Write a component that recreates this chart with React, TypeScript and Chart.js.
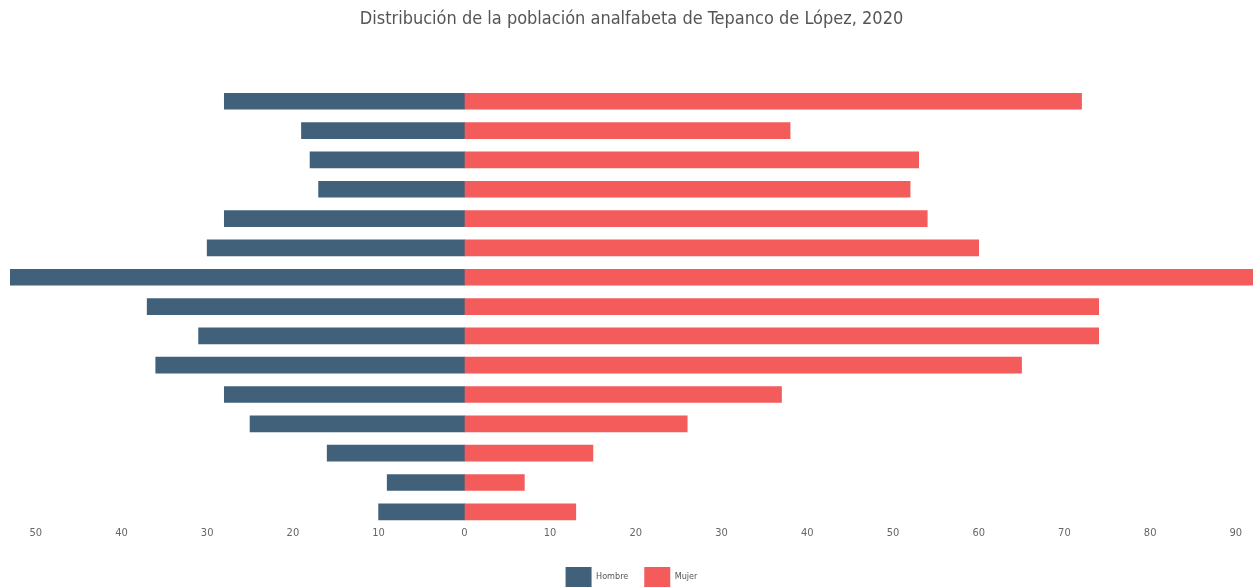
import React, { useEffect, useRef } from "react";
import { Chart, registerables } from "chart.js";

Chart.register(...registerables);

const categories = [
  "g1", "g2", "g3", "g4", "g5", "g6", "g7", "g8", "g9", "g10", "g11", "g12", "g13", "g14", "g15",
];
const hombre = [28, 19, 18, 17, 28, 30, 53, 37, 31, 36, 28, 25, 16, 9, 10];
const mujer = [72, 38, 53, 52, 54, 60, 92, 74, 74, 65, 37, 26, 15, 7, 13];
const titleText = "Distribución de la población analfabeta de Tepanco de López, 2020";

const FONT = "'Liberation Sans Narrow', 'DejaVu Sans Condensed', 'Open Sans', sans-serif";

export default function App() {
  const ref = useRef<HTMLCanvasElement | null>(null);
  useEffect(() => {
    if (!ref.current) return;
    const chart = new Chart(ref.current, {
      type: "bar",
      data: {
        labels: categories,
        datasets: [
          {
            label: "Hombre",
            data: hombre.map((v) => -v),
            backgroundColor: "#41617a",
            barThickness: 16,
          },
          {
            label: "Mujer",
            data: mujer,
            backgroundColor: "#f45b5b",
            barThickness: 16,
          },
        ],
      },
      options: {
        indexAxis: "y",
        animation: false,
        responsive: false,
        maintainAspectRatio: false,
        layout: { padding: { left: 10, right: 4, top: 0, bottom: -9 } },
        scales: {
          x: {
            stacked: true,
            min: -53,
            max: 92,
            grid: { display: false, drawTicks: false },
            border: { display: false },
            afterFit: (s: any) => {
              s.height = 24.5;
            },
            ticks: {
              stepSize: 10,
              includeBounds: false,
              padding: 0,
              color: "#666",
              font: { family: FONT, size: 11 },
              callback: (v: any) => String(Math.abs(Number(v))),
            },
          },
          y: {
            stacked: true,
            display: false,
          },
        },
        plugins: {
          title: {
            display: true,
            text: titleText,
            color: "#555",
            font: { family: FONT, size: 18, weight: "normal" },
            padding: { top: 9, bottom: 56 },
          },
          legend: {
            position: "bottom",
            labels: {
              boxWidth: 26,
              boxHeight: 20,
              color: "#555",
              font: { family: FONT, size: 9 },
              padding: 16,
            },
          },
          tooltip: { enabled: false },
        },
      },
    });
    return () => chart.destroy();
  }, []);
  return (
    <div style={{ position: "absolute", left: 0, top: 0, width: 1257, height: 588 }}>
      <canvas ref={ref} width={1257} height={588} style={{ width: 1257, height: 588 }} />
    </div>
  );
}
